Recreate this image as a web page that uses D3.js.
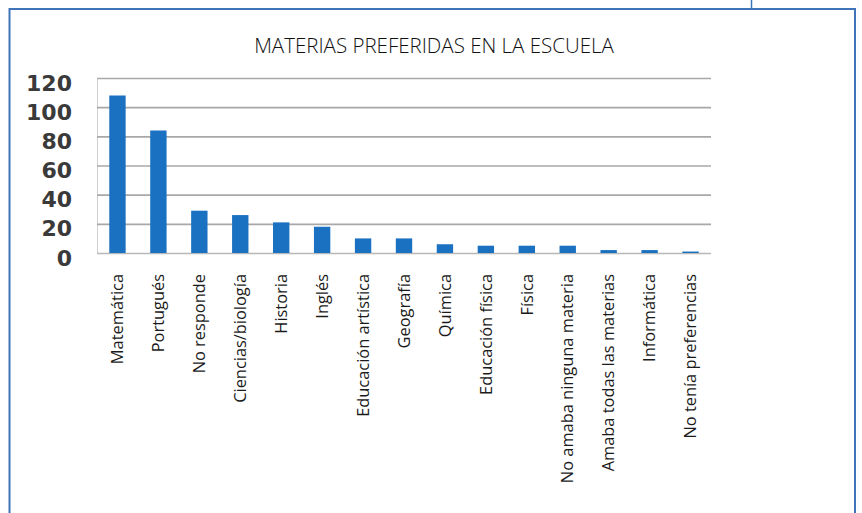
<!DOCTYPE html>
<html>
<head>
<meta charset="utf-8">
<script src="https://cdn.jsdelivr.net/npm/d3@7"></script>
<style>
  body { margin: 0; background: #fff; }
  #wrapper { width: 862px; height: 513px; }
</style>
</head>
<body>
<div id="wrapper"></div>
<script>
const materias = ["Matemática", "Portugués", "No responde", "Ciencias/biología", "Historia", "Inglés",
    "Educación artística", "Geografía", "Química", "Educación física", "Física",
    "No amaba ninguna materia", "Amaba todas las materias", "Informática", "No tenía preferencias"];
const alumnos = [108, 84, 29, 26, 21, 18, 10, 10, 6, 5, 5, 5, 2, 2, 1];
const yTicks = [0, 20, 40, 60, 80, 100, 120];
const titulo = "MATERIAS PREFERIDAS EN LA ESCUELA";

function buildPlot() {
    const dimension = {
        width: 862,
        height: 513,
        margin: { top: 78, left: 97, bottom: 260, right: 151 }
    };
    dimension.boundedWidth = dimension.width - dimension.margin.left - dimension.margin.right;
    dimension.boundedHeight = dimension.height - dimension.margin.top - dimension.margin.bottom;

    const svg = d3.select("#wrapper").append("svg")
        .attr("width", dimension.width)
        .attr("height", dimension.height);

    // marco del recuadro
    svg.append("line")
        .attr("x1", 751.5).attr("x2", 751.5).attr("y1", 0).attr("y2", 9)
        .attr("stroke", "#3f74b8").attr("stroke-width", 1.5);
    svg.append("rect")
        .attr("x", 9.5).attr("y", 9)
        .attr("width", 845.5).attr("height", 510)
        .attr("fill", "none")
        .attr("stroke", "#3f74b8")
        .attr("stroke-width", 2);

    svg.append("text")
        .attr("x", 434).attr("y", 53)
        .attr("text-anchor", "middle")
        .style("font-family", "'Open Sans', sans-serif")
        .style("font-weight", 300)
        .style("font-size", "20.5px")
        .attr("fill", "#111")
        .text(titulo);

    const bounded = svg.append("g")
        .attr("transform", `translate(${dimension.margin.left}, ${dimension.margin.top})`);

    const xScaler = d3.scaleBand()
        .domain(materias)
        .range([0, dimension.boundedWidth])
        .paddingInner(0.6)
        .paddingOuter(0.3);

    const yScaler = d3.scaleLinear()
        .domain([0, 120])
        .range([dimension.boundedHeight, 0]);

    // cuadrícula
    const yAxis = d3.axisLeft(yScaler)
        .tickValues(yTicks)
        .tickSize(-dimension.boundedWidth)
        .tickPadding(25);
    const gy = bounded.append("g").call(yAxis);
    gy.select(".domain").attr("stroke", "#d0d0d0").attr("stroke-width", 1);
    gy.selectAll(".tick line")
        .attr("stroke", d => d === 0 ? "#b8b8b8" : "#a8a8a8")
        .attr("stroke-width", 1.6);
    gy.selectAll(".tick text")
        .attr("dy", "0.55em")
        .style("font-family", "'DejaVu Sans', sans-serif")
        .style("font-weight", "bold")
        .style("font-size", "22px")
        .attr("fill", "#3a3a3a");

    bounded.selectAll(".bar")
        .data(alumnos)
        .join("rect")
        .attr("class", "bar")
        .attr("x", (d, i) => xScaler(materias[i]))
        .attr("y", d => yScaler(d))
        .attr("width", xScaler.bandwidth())
        .attr("height", d => dimension.boundedHeight - yScaler(d))
        .attr("fill", "#1a71c1");

    const xAxis = d3.axisBottom(xScaler).tickSize(0).tickPadding(21);
    const gx = bounded.append("g")
        .attr("transform", `translate(0, ${dimension.boundedHeight})`)
        .call(xAxis);
    gx.select(".domain").remove();
    gx.selectAll(".tick text")
        .attr("transform", "rotate(-90)")
        .attr("text-anchor", "end")
        .attr("x", -21)
        .attr("y", 0)
        .attr("dy", "0.35em")
        .style("font-family", "'Open Sans', sans-serif")
        .style("font-weight", 400)
        .style("font-size", "16.4px")
        .attr("fill", "#1a1a1a");
}

buildPlot();
</script>
</body>
</html>
